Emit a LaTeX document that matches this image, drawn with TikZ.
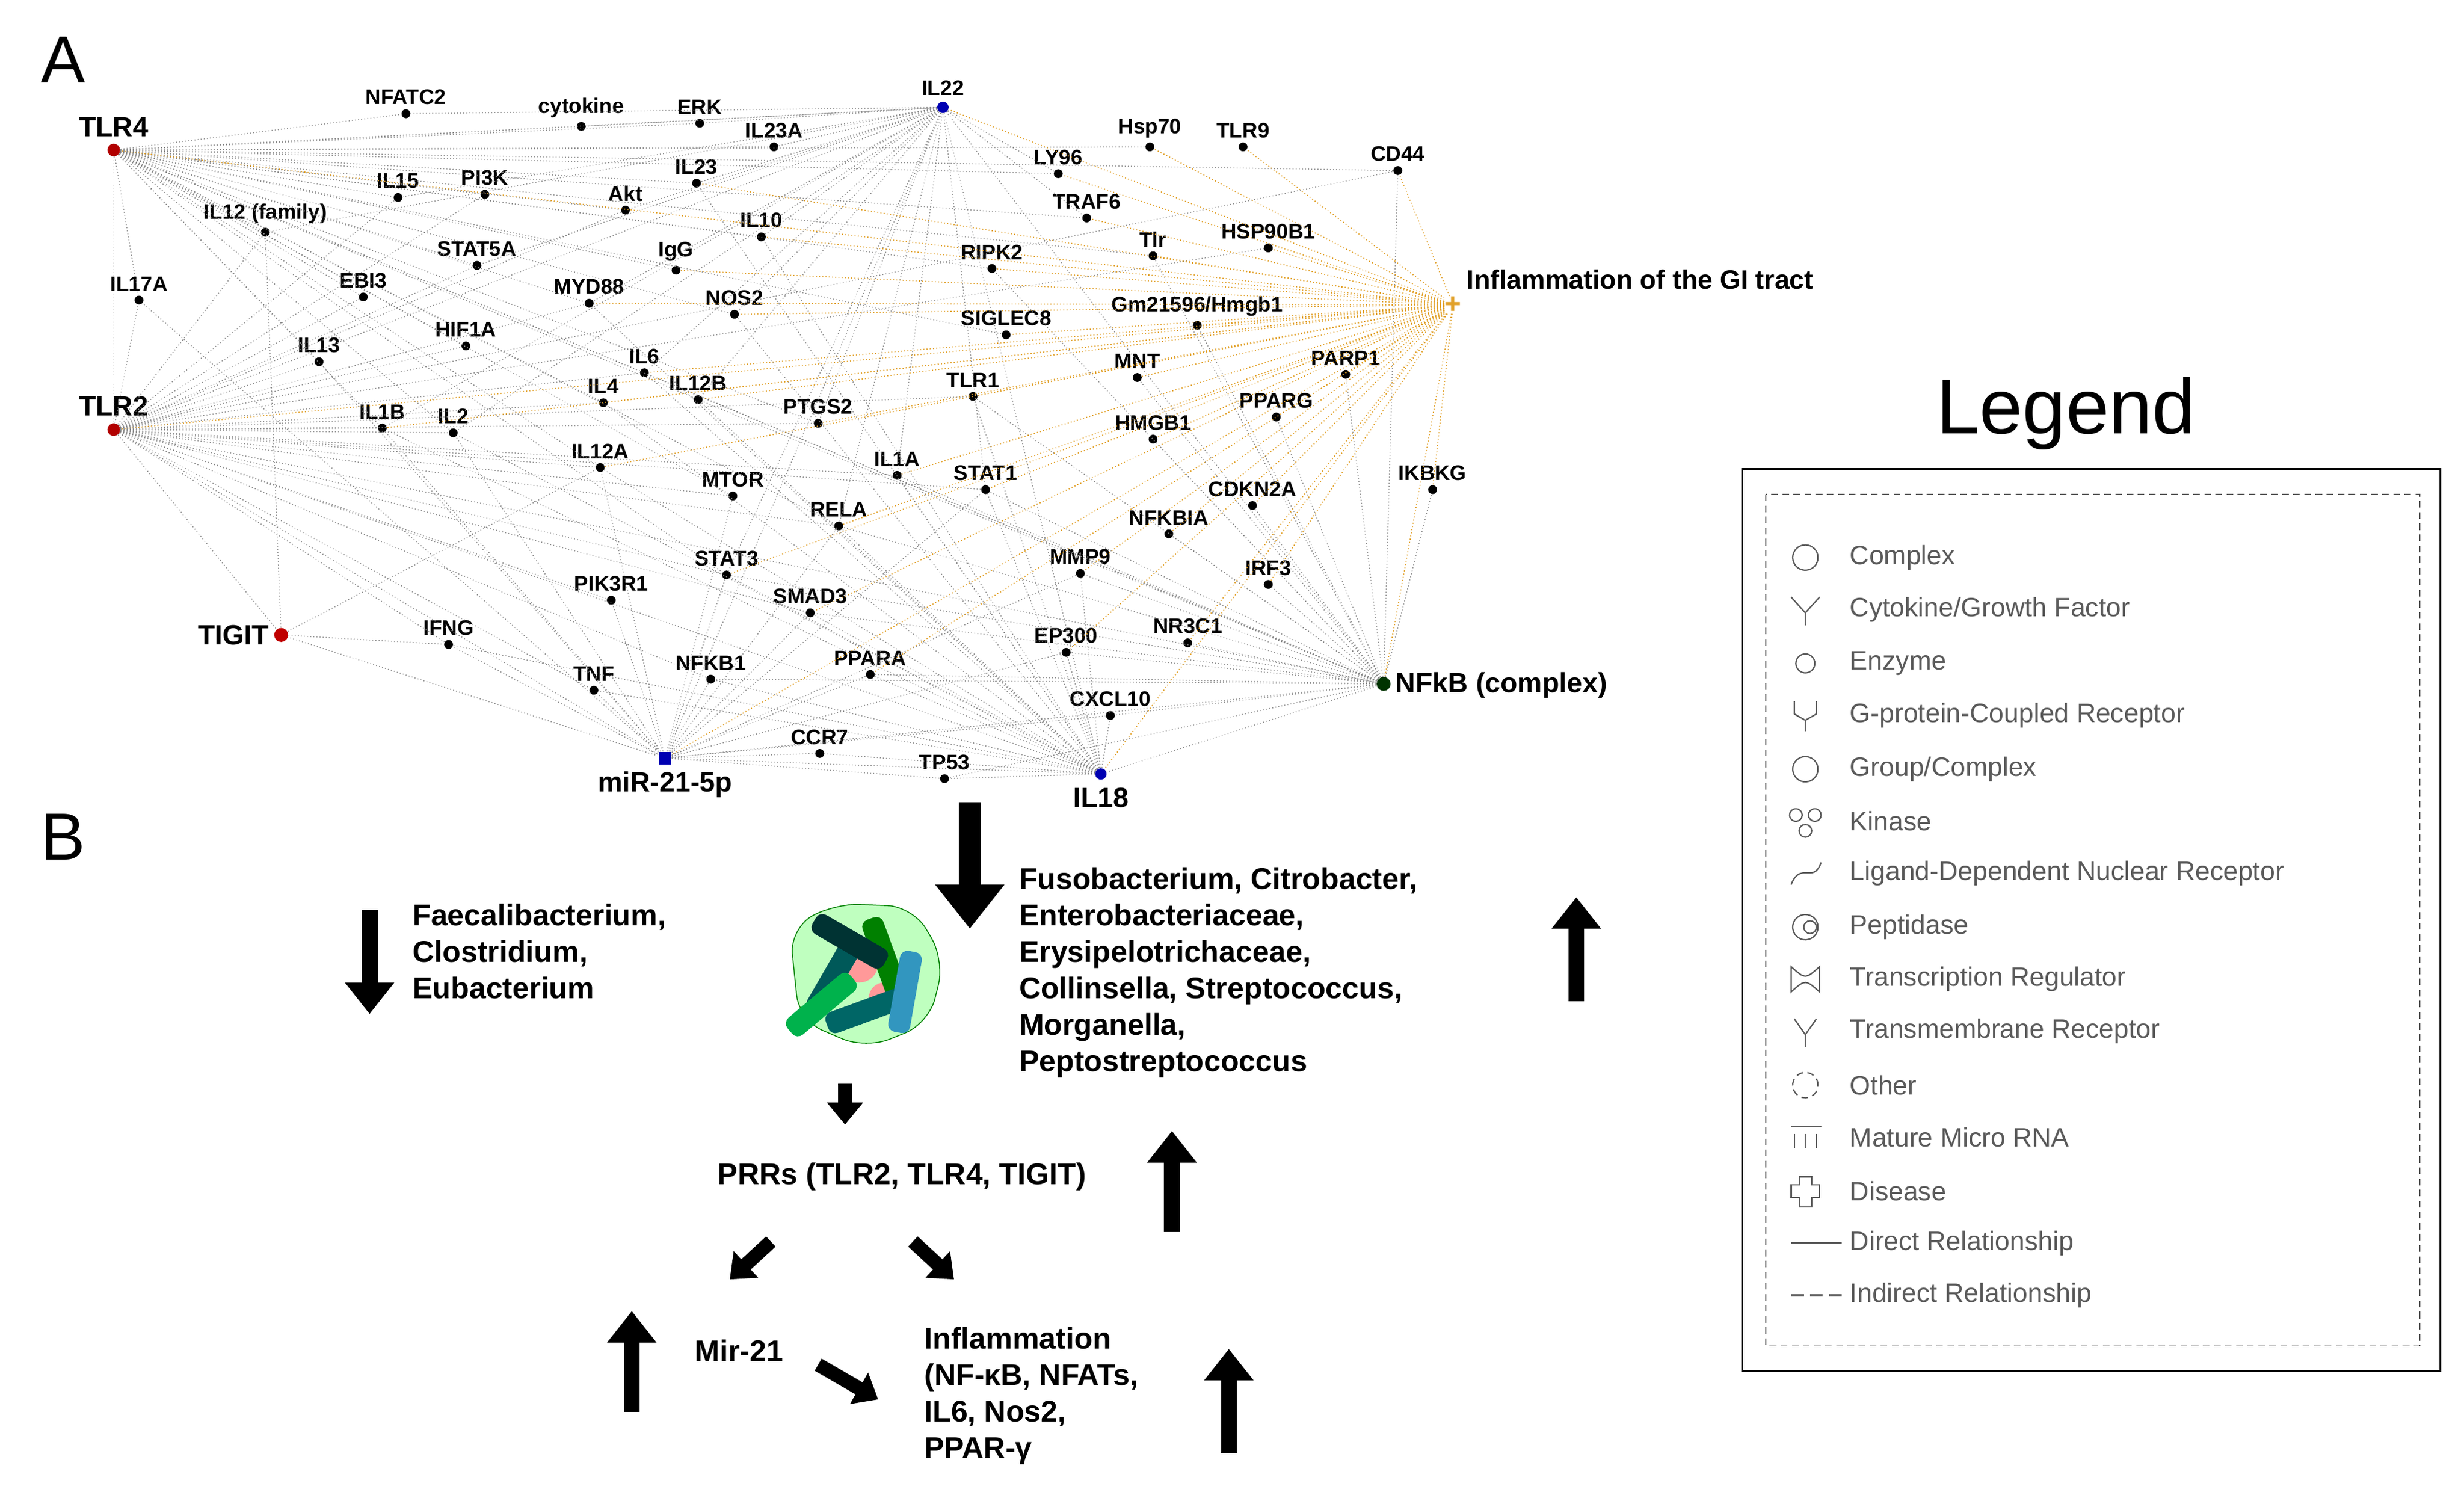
\documentclass[tikz,border=0pt]{standalone}
\usepackage{fontspec}
\setmainfont{Liberation Sans}
\usetikzlibrary{arrows.meta,shapes.geometric}
\definecolor{ora}{RGB}{225,160,40}
\definecolor{lg}{RGB}{90,90,90}
\begin{document}
\begin{tikzpicture}[x=0.025cm,y=-0.025cm,
 sym/.style={circle,fill=black,inner sep=0pt,minimum size=0.14cm},
 lab/.style={font=\bfseries\fontsize{9.5}{11}\selectfont,inner sep=1pt},
 hl/.style={font=\bfseries\fontsize{12.5}{14}\selectfont,inner sep=1pt},
 ed/.style={black!45,densely dotted,line width=0.4pt},
 oed/.style={ora,densely dotted,line width=0.45pt},
 bt/.style={font=\bfseries\fontsize{13.5}{16.4}\selectfont,align=left,anchor=north west,inner sep=0pt},
 fat/.style={line width=0.25cm,-{Triangle[length=0.5cm,width=0.75cm]}},
 fats/.style={line width=0.22cm,-{Triangle[length=0.35cm,width=0.55cm]}},
 li/.style={font=\fontsize{12}{14}\selectfont,text=lg,anchor=west,inner sep=0pt},
 ic/.style={lg,line width=0.6pt}]
\useasboundingbox (0,0) rectangle (1560,952);
\newcommand\nd[4]{\node[sym] (#1) at (#2,#3) {}; \node[lab,anchor=south] (#1l) at (#2,#3-4) {#4};}
\nd{nfatc2}{257}{72}{NFATC2}
\nd{cytokine}{368}{80}{cytokine}
\nd{erk}{443}{78}{ERK}
\nd{il23a}{490}{93}{IL23A}
\nd{hsp70}{728}{93}{Hsp70}
\nd{tlr9}{787}{93}{TLR9}
\nd{ly96}{670}{110}{LY96}
\nd{cd44}{885}{108}{CD44}
\nd{il15}{252}{125}{IL15}
\nd{pi3k}{307}{123}{PI3K}
\nd{il23}{441}{116}{IL23}
\nd{akt}{396}{133}{Akt}
\nd{il12f}{168}{147}{IL12 (family)}
\nd{il10}{482}{150}{IL10}
\nd{traf6}{688}{138}{TRAF6}
\nd{tlr}{730}{162}{Tlr}
\nd{hsp90}{803}{157}{HSP90B1}
\nd{stat5a}{302}{168}{STAT5A}
\nd{igg}{428}{171}{IgG}
\nd{ripk2}{628}{170}{RIPK2}
\nd{myd88}{373}{192}{MYD88}
\nd{nos2}{465}{199}{NOS2}
\nd{il17a}{88}{190}{IL17A}
\nd{ebi3}{230}{188}{EBI3}
\nd{gm}{758}{206}{Gm21596/Hmgb1}
\nd{siglec8}{637}{212}{SIGLEC8}
\nd{hif1a}{295}{219}{HIF1A}
\nd{il13}{202}{229}{IL13}
\nd{il6}{408}{236}{IL6}
\nd{mnt}{720}{239}{MNT}
\nd{parp1}{852}{237}{PARP1}
\nd{il4}{382}{255}{IL4}
\nd{il12b}{442}{253}{IL12B}
\nd{tlr1}{616}{251}{TLR1}
\nd{il1b}{242}{271}{IL1B}
\nd{il2}{287}{274}{IL2}
\nd{ptgs2}{518}{268}{PTGS2}
\nd{pparg}{808}{264}{PPARG}
\nd{hmgb1}{730}{278}{HMGB1}
\nd{il12a}{380}{296}{IL12A}
\nd{il1a}{568}{301}{IL1A}
\nd{stat1}{624}{310}{STAT1}
\nd{ikbkg}{907}{310}{IKBKG}
\nd{mtor}{464}{314}{MTOR}
\nd{cdkn2a}{793}{320}{CDKN2A}
\nd{rela}{531}{333}{RELA}
\nd{nfkbia}{740}{338}{NFKBIA}
\nd{mmp9}{684}{363}{MMP9}
\nd{irf3}{803}{370}{IRF3}
\nd{stat3}{460}{364}{STAT3}
\nd{pik3r1}{387}{380}{PIK3R1}
\nd{smad3}{513}{388}{SMAD3}
\nd{ifng}{284}{408}{IFNG}
\nd{ep300}{675}{413}{EP300}
\nd{nr3c1}{752}{407}{NR3C1}
\nd{ppara}{551}{427}{PPARA}
\nd{nfkb1}{450}{430}{NFKB1}
\nd{tnf}{376}{437}{TNF}
\nd{cxcl10}{703}{453}{CXCL10}
\nd{ccr7}{519}{477}{CCR7}
\nd{tp53}{598}{493}{TP53}
% hubs
\node[circle,fill=red!70!black,inner sep=0pt,minimum size=0.2cm] (tlr4) at (72,95) {};
\node[hl,anchor=south] (tlr4l) at (72,88) {TLR4};
\node[circle,fill=red!70!black,inner sep=0pt,minimum size=0.2cm] (tlr2) at (72,272) {};
\node[hl,anchor=south] (tlr2l) at (72,265) {TLR2};
\node[circle,fill=red!75!black,inner sep=0pt,minimum size=0.22cm] (tigit) at (178,402) {};
\node[hl,anchor=east] (tigitl) at (172,402) {TIGIT};
\node[circle,fill=blue!70!black,inner sep=0pt,minimum size=0.18cm] (il22) at (597,68) {};
\node[lab,anchor=south] (il22l) at (597,62) {IL22};
\node[rectangle,fill=blue!70!black,inner sep=0pt,minimum size=0.2cm] (mir) at (421,480) {};
\node[hl,anchor=north] (mirl) at (421,487) {miR-21-5p};
\node[circle,fill=blue!70!black,inner sep=0pt,minimum size=0.18cm] (il18) at (697,490) {};
\node[hl,anchor=north] (il18l) at (697,497) {IL18};
\node[circle,fill=black!80!green,inner sep=0pt,minimum size=0.22cm] (nfkbc) at (876,433) {};
\node[hl,anchor=west] (nfkbcl) at (882,434) {NFkB (complex)};
\node[font=\bfseries\fontsize{13}{14}\selectfont,text=ora,inner sep=0pt] (infl) at (920,193) {+};
\node[font=\bfseries\fontsize{12}{14}\selectfont,anchor=west,inner sep=1pt] (infll) at (927,177) {Inflammation of the GI tract};
\foreach \t in {nfatc2,cytokine,erk,il23a,il22,il15,pi3k,il23,akt,il12f,il10,stat5a,igg,myd88,nos2,il17a,ebi3,hif1a,il13,il6,il4,il12b,tlr2,il1b,il2,ptgs2,il12a,rela,stat3,traf6,tlr,ly96,mtor,ripk2,siglec8,nfkbc,hsp70,cd44}
  \draw[ed] (tlr4) -- (\t);
\foreach \t in {il17a,il13,il1b,il2,il12a,il4,il6,ifng,tnf,tigit,pik3r1,stat3,nfkb1,mir,myd88,stat5a,il12f,ebi3,hif1a,akt,pi3k,il15,il22,ptgs2,il1a,stat1,tlr1,mtor,rela,smad3,nfkbc,il18,hsp90,cd44}
  \draw[ed] (tlr2) -- (\t);
\foreach \t in {nfatc2,cytokine,erk,il23a,il15,il23,akt,il10,stat5a,il12f,myd88,nos2,il6,il12b,il1b,il2,stat1,rela,stat3,il18,ptgs2,il1a,ly96,traf6}
  \draw[ed] (il22) -- (\t);
\foreach \t in {ikbkg,irf3,cdkn2a,nfkbia,nr3c1,ep300,mmp9,cxcl10,hmgb1,pparg,parp1,mnt,stat1,tlr1,rela,il1a,nfkb1,ppara,il18,mir,tp53,smad3,stat3,il6,il12b,ripk2,gm,tlr,il22,cd44}
  \draw[ed] (nfkbc) -- (\t);
\foreach \t in {tigit,ifng,tnf,pik3r1,stat3,nfkb1,ccr7,tp53,il18,ppara,smad3,rela,mtor,il12a,il2,il1b,il13,il17a,il22,stat1,mmp9,ep300,cxcl10}
  \draw[ed] (mir) -- (\t);
\foreach \t in {ifng,tnf,nfkb1,ppara,ccr7,tp53,cxcl10,ep300,mmp9,smad3,stat3,rela,il1a,stat1,tlr1,il12a,il1b,il2,il6,il4,myd88,nos2,il12b,il10,il23}
  \draw[ed] (il18) -- (\t);
\foreach \t in {ifng,il12f,il12a}
  \draw[ed] (tigit) -- (\t);
\foreach \t in {tlr4,tlr2,cd44,tlr9,hsp70,ly96,traf6,tlr,hsp90,ripk2,gm,siglec8,mnt,parp1,tlr1,ptgs2,hmgb1,pparg,il12b,il4,il6,nos2,il1a,stat1,cdkn2a,nfkbia,ikbkg,mmp9,irf3,nfkbc,il18,mir,ppara,nr3c1,ep300,rela,il12a,il1b,il10,il23,il22,igg,myd88,smad3,stat3}
  \draw[oed] (infl) -- (\t);
\node[font=\fontsize{30}{32}\selectfont,inner sep=0pt] (lA) at (40,38) {A};
\node[font=\fontsize{30}{32}\selectfont,inner sep=0pt] (lB) at (40,530) {B};
% Part B
\coordinate (a1s) at (614,508); \coordinate (a1e) at (614,588);
\draw[line width=0.35cm,-{Triangle[length=0.7cm,width=1.05cm]}] (a1s) -- (a1e);
\coordinate (a2s) at (234,576); \coordinate (a2e) at (234,642);
\draw[fat] (a2s) -- (a2e);
\coordinate (a3s) at (998,634); \coordinate (a3e) at (998,568);
\draw[fat] (a3s) -- (a3e);
\coordinate (a4s) at (742,780); \coordinate (a4e) at (742,716);
\draw[fat] (a4s) -- (a4e);
\coordinate (a5s) at (400,894); \coordinate (a5e) at (400,830);
\draw[fat] (a5s) -- (a5e);
\coordinate (a6s) at (778,920); \coordinate (a6e) at (778,854);
\draw[fat] (a6s) -- (a6e);
\coordinate (s1s) at (535,686); \coordinate (s1e) at (535,712);
\draw[fats] (s1s) -- (s1e);
\coordinate (s2s) at (488,786); \coordinate (s2e) at (462,810);
\draw[fats] (s2s) -- (s2e);
\coordinate (s3s) at (578,786); \coordinate (s3e) at (604,810);
\draw[fats] (s3s) -- (s3e);
\coordinate (s4s) at (518,864); \coordinate (s4e) at (556,886);
\draw[fats] (s4s) -- (s4e);
% bacteria
\begin{scope}[shift={(548,618)}]
\fill[green!25!white,draw=green!50!black,line width=0.4pt,rounded corners=0.4cm] (-48,-30) -- (-20,-46) -- (30,-44) -- (50,-10) -- (40,30) -- (0,46) -- (-42,28) -- cycle;
\fill[pink!80!red] (-4,-8) circle (0.3cm);
\fill[pink!80!red] (12,14) circle (0.25cm);
\foreach \a/\x/\y/\c in {60/-20/0/teal!70!black,110/12/-12/green!50!black,20/0/22/teal!80!black,80/25/10/cyan!50!teal,150/-10/-22/black!60!teal,40/-28/18/green!40!teal}
 \fill[\c,rotate around={\a:(\x,\y)},rounded corners=0.12cm] (\x-26,\y-7) rectangle (\x+26,\y+7);
\end{scope}
\node[bt] (t1) at (261,572) {Faecalibacterium,\\Clostridium,\\Eubacterium};
\node[bt] (t2) at (645,549) {Fusobacterium, Citrobacter,\\Enterobacteriaceae,\\Erysipelotrichaceae,\\Collinsella, Streptococcus,\\Morganella,\\Peptostreptococcus};
\node[font=\bfseries\fontsize{13.5}{16}\selectfont,inner sep=0pt] (t3) at (571,745) {PRRs (TLR2, TLR4, TIGIT)};
\node[font=\bfseries\fontsize{13.5}{16}\selectfont,inner sep=0pt] (t4) at (468,855) {Mir-21};
\node[bt] (t5) at (585,840) {Inflammation\\(NF-κB, NFATs,\\IL6, Nos2,\\PPAR-γ};
% Legend
\node[font=\fontsize{35}{38}\selectfont,inner sep=0pt] (lt) at (1308,262) {Legend};
\draw[line width=0.8pt] (1103,297) rectangle (1545,868);
\draw[densely dashed,lg,line width=0.4pt] (1118,313) rectangle (1532,852);
\foreach \y/\t [count=\i] in {353/{Complex},386/{Cytokine/Growth Factor},420/{Enzyme},453/{G-protein-Coupled Receptor},487/{Group/Complex},520/{Kinase},553/{Ligand-Dependent Nuclear Receptor},587/{Peptidase},620/{Transcription Regulator},653/{Transmembrane Receptor},687/{Other},720/{Mature Micro RNA},754/{Disease},787/{Direct Relationship},820/{Indirect Relationship}}
  \node[li] (leg\i) at (1171,\y) {\t};
\draw[ic] (1143,353) circle (0.2cm);
\draw[ic] (1134,378) -- (1143,388) -- (1152,378) (1143,388) -- (1143,396);
\draw[ic] (1143,420) circle (0.15cm);
\draw[ic] (1136,444) -- (1136,452) -- (1143,456) -- (1150,452) -- (1150,444) (1143,456) -- (1143,463);
\draw[ic] (1143,487) circle (0.2cm);
\draw[ic] (1137,516) circle (0.1cm) (1149,516) circle (0.1cm) (1143,526) circle (0.1cm);
\draw[ic] (1134,560) .. controls (1140,545) and (1148,560) .. (1153,546);
\draw[ic] (1143,587) circle (0.2cm) (1146,587) circle (0.1cm);
\draw[ic] (1134,612) .. controls (1143,620) .. (1152,612) -- (1152,628) .. controls (1143,620) .. (1134,628) -- cycle;
\draw[ic] (1136,645) -- (1143,655) -- (1150,645) (1143,655) -- (1143,663);
\draw[ic,densely dashed] (1143,687) circle (0.2cm);
\draw[ic] (1134,713) -- (1153,713) (1136,718) -- (1136,727) (1143,718) -- (1143,727) (1150,718) -- (1150,727);
\draw[ic] (1139,745) -- (1147,745) -- (1147,750) -- (1152,750) -- (1152,758) -- (1147,758) -- (1147,764) -- (1139,764) -- (1139,758) -- (1134,758) -- (1134,750) -- (1139,750) -- cycle;
\draw[ic,line width=1pt] (1134,787) -- (1166,787);
\draw[ic,line width=1pt,dash pattern=on 0.2cm off 0.1cm] (1134,820) -- (1166,820);
\end{tikzpicture}
\end{document}
